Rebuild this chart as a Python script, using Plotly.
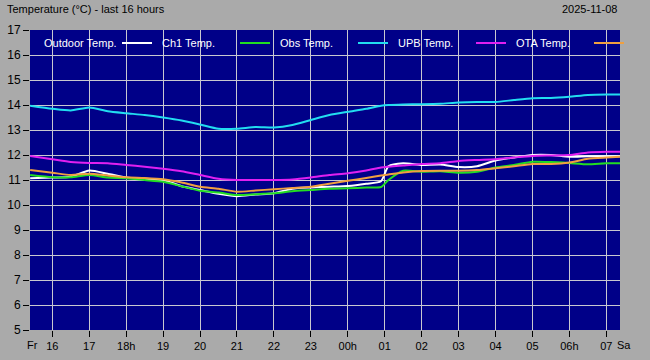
import plotly.graph_objects as go

# time in hours since Fri 00:00 (24 = Sat 00h)
hours = [15.4, 16.0, 16.5, 17.0, 17.5, 18.0, 18.5, 19.0, 19.5, 20.0, 20.5, 21.0, 21.5,
         22.0, 22.5, 23.0, 23.5, 24.0, 24.5, 24.9, 25.1, 25.5, 26.0, 26.5, 27.0, 27.5,
         28.0, 28.5, 29.0, 29.5, 30.0, 30.5, 31.0, 31.4]

outdoor = [11.07, 11.10, 11.13, 11.38, 11.25, 11.10, 11.05, 11.00, 10.75, 10.60, 10.45, 10.35, 10.42,
           10.47, 10.65, 10.70, 10.73, 10.76, 10.85, 10.95, 11.55, 11.67, 11.60, 11.62, 11.52, 11.55,
           11.78, 11.90, 12.00, 12.00, 11.93, 11.95, 11.95, 11.95]
ch1 = [11.20, 11.11, 11.11, 11.20, 11.10, 11.07, 11.00, 10.93, 10.75, 10.57, 10.50, 10.40, 10.43,
       10.47, 10.55, 10.60, 10.65, 10.67, 10.70, 10.72, 11.00, 11.37, 11.33, 11.35, 11.29, 11.33,
       11.50, 11.60, 11.73, 11.72, 11.68, 11.63, 11.67, 11.67]
obs = [13.97, 13.85, 13.78, 13.90, 13.75, 13.67, 13.60, 13.50, 13.38, 13.22, 13.05, 13.05, 13.12,
       13.10, 13.20, 13.40, 13.60, 13.73, 13.85, 13.97, 14.00, 14.02, 14.03, 14.05, 14.10, 14.12,
       14.12, 14.20, 14.27, 14.28, 14.33, 14.40, 14.42, 14.42]
upb = [11.96, 11.83, 11.72, 11.68, 11.67, 11.60, 11.53, 11.45, 11.35, 11.20, 11.05, 11.00, 11.00,
       11.00, 11.02, 11.10, 11.20, 11.27, 11.38, 11.50, 11.53, 11.58, 11.64, 11.67, 11.76, 11.80,
       11.83, 11.90, 11.96, 11.98, 12.00, 12.10, 12.13, 12.13]
ota = [11.40, 11.29, 11.20, 11.25, 11.18, 11.11, 11.08, 11.03, 10.90, 10.73, 10.65, 10.53, 10.58,
       10.63, 10.68, 10.73, 10.85, 10.97, 11.08, 11.18, 11.22, 11.30, 11.36, 11.37, 11.37, 11.40,
       11.47, 11.55, 11.64, 11.64, 11.70, 11.85, 11.90, 11.93]

series_names = ["Outdoor Temp.", "Ch1 Temp.", "Obs Temp.", "UPB Temp.", "OTA Temp."]
series_values = [outdoor, ch1, obs, upb, ota]
series_colors = ["#ffffff", "#22dd22", "#22ddf0", "#e020f0", "#f0a040"]

tick_hours = list(range(16, 32))
tick_labels = ["16", "17", "18h", "19", "20", "21", "22", "23", "00h", "01", "02", "03",
               "04", "05", "06h", "07"]
x_start, x_end = 15.396, 31.37

FONT = "Liberation Sans, Arial, sans-serif"

fig = go.Figure()
for name, vals, col in zip(series_names, series_values, series_colors):
    fig.add_trace(go.Scatter(x=hours, y=vals, name=name, mode="lines",
                             line=dict(color=col, width=2, shape="spline", smoothing=0.6),
                             showlegend=False))

annotations = []
shapes = []
# custom legend row inside plot
slot_px = [42, 160, 278, 396, 514]
W, H = 590, 300
for name, col, sx in zip(series_names, series_colors, slot_px):
    annotations.append(dict(text=name, x=(sx - 30) / W, y=1 - (43 - 30) / H, xref="paper", yref="paper",
                            xanchor="left", yanchor="middle", showarrow=False,
                            font=dict(color="white", size=11, family=FONT)))
    shapes.append(dict(type="line", xref="paper", yref="paper",
                       x0=(sx + 80 - 30) / W, x1=(sx + 110 - 30) / W,
                       y0=1 - (43 - 30) / H, y1=1 - (43 - 30) / H,
                       line=dict(color=col, width=2)))

annotations += [
    dict(text="Temperature (°C) - last 16 hours", x=(5 - 30) / W, y=1 + (30 - 9) / H, xref="paper", yref="paper",
         xanchor="left", yanchor="middle", showarrow=False, font=dict(color="black", size=11, family=FONT)),
    dict(text="2025-11-08", x=(619 - 30) / W, y=1 + (30 - 9) / H, xref="paper", yref="paper",
         xanchor="right", yanchor="middle", showarrow=False, font=dict(color="black", size=11, family=FONT)),
    dict(text="Fr", x=(32 - 30) / W, y=-(345 - 330) / H, xref="paper", yref="paper",
         xanchor="center", yanchor="middle", showarrow=False, font=dict(color="black", size=11, family=FONT)),
    dict(text="Sa", x=(624 - 30) / W, y=-(345 - 330) / H, xref="paper", yref="paper",
         xanchor="center", yanchor="middle", showarrow=False, font=dict(color="black", size=11, family=FONT)),
]

fig.update_layout(
    width=650, height=360,
    margin=dict(l=30, r=30, t=30, b=30, autoexpand=False),
    paper_bgcolor="#aaaaaa", plot_bgcolor="#000088",
    font=dict(family=FONT, size=11, color="black"),
    annotations=annotations, shapes=shapes,
    xaxis=dict(range=[x_start, x_end], tickmode="array", tickvals=tick_hours, ticktext=tick_labels,
               ticks="outside", ticklen=6, tickcolor="black", showgrid=True, gridcolor="#c8c8d0",
               gridwidth=1, zeroline=False, showline=False, fixedrange=True, automargin=False),
    yaxis=dict(range=[5, 17], dtick=1, tick0=5, ticks="outside", ticklen=6, tickcolor="black",
               showgrid=True, gridcolor="#c8c8d0", gridwidth=1, zeroline=False, showline=False,
               fixedrange=True, automargin=False, tickfont=dict(size=12)),
)

fig.write_html("out.html")
